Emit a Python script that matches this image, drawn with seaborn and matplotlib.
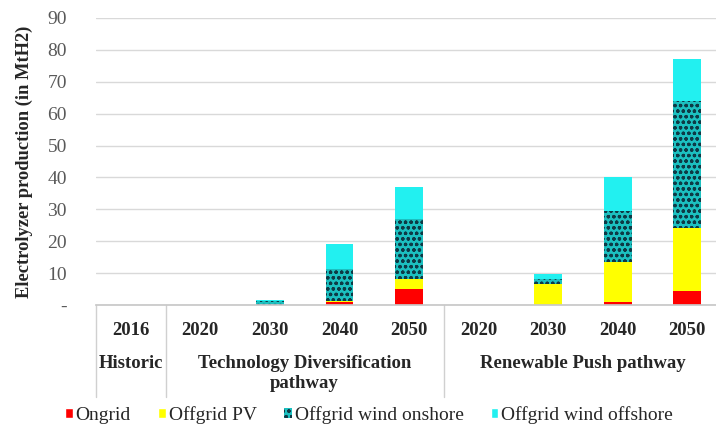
import numpy as np
import pandas as pd
import matplotlib
matplotlib.use("Agg")
import matplotlib.pyplot as plt
from matplotlib.patches import Patch
from matplotlib.lines import Line2D
import seaborn as sns

# data (MtH2)
years = ["2016", "2020", "2030", "2040", "2050", "2020", "2030", "2040", "2050"]
ongrid = [0, 0, 0, 0.8, 5.0, 0, 0, 1.0, 4.5]
offgrid_pv = [0, 0, 0, 0.3, 3.0, 0, 6.6, 12.5, 19.5]
wind_onshore = [0, 0, 1.2, 10.2, 19.0, 0, 1.5, 16.0, 40.0]
wind_offshore = [0, 0, 0.5, 7.8, 10.0, 0, 1.6, 10.7, 13.0]
groups = ["Historic", "Technology Diversification\npathway", "Renewable Push pathway"]
group_sizes = [1, 4, 4]
series_names = ["Ongrid", "Offgrid PV", "Offgrid wind onshore", "Offgrid wind offshore"]

# graphs set-up
sns.set_theme(style="white")
plt.rcParams["font.family"] = ["Liberation Serif", "DejaVu Serif"]
plt.rcParams["hatch.linewidth"] = 0.9

colors = ["#ff0000", "#ffff00", "#1cc0c0", "#22f0f0"]
hatch_col = "#0e3a46"

df = pd.DataFrame({
    "pos": np.arange(len(years)),
    "ongrid": ongrid,
    "pv": offgrid_pv,
    "onshore": wind_onshore,
    "offshore": wind_offshore,
})
# cumulative heights, drawn from the top layer down so each covers the one below
df["c1"] = df["ongrid"]
df["c2"] = df["c1"] + df["pv"]
df["c3"] = df["c2"] + df["onshore"]
df["c4"] = df["c3"] + df["offshore"]

fig = plt.figure(figsize=(7.16, 4.30), dpi=100)
ax = fig.add_axes([96 / 716, 1 - 305 / 430, 626 / 716, 287 / 430])

sns.barplot(data=df, x="pos", y="c4", color=colors[3], saturation=1, width=0.4,
            errorbar=None, linewidth=0, ax=ax)
sns.barplot(data=df, x="pos", y="c3", color=colors[2], saturation=1, width=0.4,
            errorbar=None, linewidth=0, edgecolor=hatch_col, hatch="ooo", ax=ax)
sns.barplot(data=df, x="pos", y="c2", color=colors[1], saturation=1, width=0.4,
            errorbar=None, linewidth=0, ax=ax)
sns.barplot(data=df, x="pos", y="c1", color=colors[0], saturation=1, width=0.4,
            errorbar=None, linewidth=0, ax=ax)

ax.set_xlim(-0.5, 8.5)
ax.set_ylim(0, 90)
yt = np.arange(0, 91, 10)
ax.set_yticks(yt, ["-"] + [str(v) for v in yt[1:]])
ax.tick_params(axis="y", length=0, pad=21, labelsize=14, labelcolor="#595959")
ax.set_xticks(range(len(years)), years)
ax.tick_params(axis="x", length=0, pad=12, labelsize=13.5)
for lab in ax.get_xticklabels():
    lab.set_fontweight("bold")
ax.set_xlabel("")
ax.set_ylabel("Electrolyzer production (in MtH2)", fontsize=13.3, fontweight="bold")
ax.yaxis.set_label_coords(-0.101, 0.5)

ax.grid(axis="y", color="#d9d9d9", linewidth=1)
ax.set_axisbelow(True)
for s in ["left", "right", "top"]:
    ax.spines[s].set_visible(False)
ax.spines["bottom"].set_color("#c8c8c8")

# group labels and dividers below the axis
tr = ax.get_xaxis_transform()
start = 0
for name, n in zip(groups, group_sizes):
    ax.text(start + (n - 1) / 2, -0.175, name, transform=tr, ha="center", va="top",
            fontsize=13.5, fontweight="bold", linespacing=1.2)
    ax.add_line(Line2D([start - 0.5, start - 0.5], [0, -0.32], transform=tr,
                       color="#d0d0d0", linewidth=1, clip_on=False))
    start += n
ax.add_line(Line2D([start - 0.5, start - 0.5], [0, -0.32], transform=tr,
                   color="#d0d0d0", linewidth=1, clip_on=False))

handles = [
    Patch(facecolor=colors[0], label=series_names[0]),
    Patch(facecolor=colors[1], label=series_names[1]),
    Patch(facecolor=colors[2], edgecolor=hatch_col, hatch="ooo", linewidth=0, label=series_names[2]),
    Patch(facecolor=colors[3], label=series_names[3]),
]
fig.legend(handles=handles, loc="center", bbox_to_anchor=(369 / 716, 15 / 430), ncol=4,
           frameon=False, fontsize=14, handlelength=0.4, handleheight=0.4,
           handletextpad=0.15, columnspacing=1.4)

fig.savefig("out.png", dpi=100)
